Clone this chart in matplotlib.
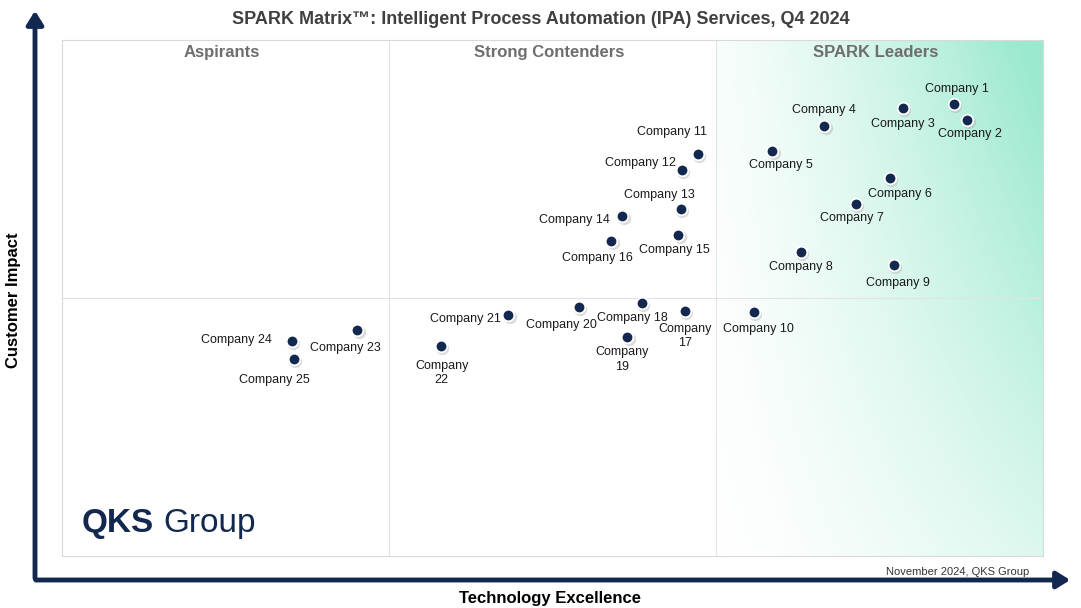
import numpy as np
import matplotlib
matplotlib.use("Agg")
import matplotlib.pyplot as plt
from matplotlib.patches import FancyArrowPatch

plt.rcParams['font.family'] = ['Liberation Sans', 'DejaVu Sans']

companies = [f"Company {i}" for i in range(1, 26)]
tech = [90.9, 92.3, 85.7, 77.7, 72.4, 84.4, 80.9, 75.3, 84.8, 70.5,
        64.8, 63.2, 63.1, 57.1, 62.8, 56.0, 63.5, 59.1, 57.6, 52.7,
        45.5, 38.6, 30.1, 23.4, 23.6]
impact = [87.6, 84.5, 86.8, 83.3, 78.5, 73.3, 68.2, 58.9, 56.4, 47.3,
          77.9, 74.8, 67.2, 65.9, 62.2, 61.0, 47.5, 49.0, 42.4, 48.3,
          46.7, 40.7, 43.8, 41.7, 38.2]
label_text = {17: "Company\n17", 19: "Company\n19", 22: "Company\n22"}
# label offsets in pixels (dx, dy; dy positive = up)
offsets = {1: (3, 15), 2: (2, -14), 3: (0, -16), 4: (0, 16), 5: (9, -14), 6: (10, -16),
           7: (-4, -14), 8: (0, -15), 9: (4, -18), 10: (5, -17), 11: (-26, 22),
           12: (-42, 7), 13: (-22, 14), 14: (-48, -4), 15: (-4, -15), 16: (-14, -17),
           17: (0, -25), 18: (-9, -15), 19: (-5, -22), 20: (-18, -18), 21: (-43, -4),
           22: (1, -27), 23: (-12, -18), 24: (-55, 1), 25: (-19, -21)}
quadrants = ["Aspirants", "Strong Contenders", "SPARK Leaders"]

W, H = 1081, 608
fig = plt.figure(figsize=(W/100, H/100), dpi=100)
x0, x1, y0, y1 = 62, 1043, 40, 556
ax = fig.add_axes([x0/W, 1-y1/H, (x1-x0)/W, (y1-y0)/H])
ax.set_xlim(0, 100); ax.set_ylim(0, 100)
ax.set_xticks([]); ax.set_yticks([])
for s in ax.spines.values():
    s.set_color('#d9d9d9'); s.set_linewidth(0.8)

# gradient in leaders region
nx, ny = 200, 200
gx = np.linspace(0, 1, nx)[None, :]
gy = np.linspace(1, 0, ny)[:, None]
a = np.clip(gx**1.3 * (0.35 + 0.65*gy) + 0.08*gy, 0, 1)
img = np.zeros((ny, nx, 4))
img[..., 0] = 150/255; img[..., 1] = 232/255; img[..., 2] = 205/255
img[..., 3] = a * 0.95
ax.imshow(img, extent=[66.67, 100, 0, 100], aspect='auto', zorder=0, interpolation='bilinear')

ax.axvline(33.33, color='#e3e3e3', lw=0.8)
ax.axvline(66.67, color='#e3e3e3', lw=0.8)
ax.axhline(50, color='#e3e3e3', lw=0.8)
for i, q in enumerate(quadrants):
    ax.text(16.3 + 33.33*i, 97.6, q, ha='center', va='center', fontsize=12,
            fontweight='bold', color='#6e6e6e')

# shadow + markers
ax.scatter(np.array(tech)+0.15, np.array(impact)-0.35, s=90, color='#b0b0b0', alpha=0.45, zorder=3, lw=0)
ax.scatter(tech, impact, s=70, color='#13284f', edgecolors='white', linewidths=1.3, zorder=4)
for i, (x, y) in enumerate(zip(tech, impact), start=1):
    dx, dy = offsets[i]
    ax.annotate(label_text.get(i, companies[i-1]), (x, y), xytext=(dx*0.72, dy*0.72),
                textcoords='offset points', ha='center', va='center', fontsize=9,
                color='#1a1a1a', linespacing=1.3, zorder=5)

# logo
ax.text(2.0, 6.3, "QKS", fontsize=24, fontweight='bold', color='#13284f', ha='left', va='center')
ax.text(10.3, 6.3, "Group", fontsize=24, color='#13284f', ha='left', va='center')

fig.text(0.5, 1-19/H, "SPARK Matrix™: Intelligent Process Automation (IPA) Services, Q4 2024",
         ha='center', va='center', fontsize=13, fontweight='bold', color='#404040')
fig.text(958/W, 1-572/H, "November 2024, QKS Group", ha='center', va='center', fontsize=8, color='#333333')
fig.text(550/W, 1-598/H, "Technology Excellence", ha='center', va='center', fontsize=12, fontweight='bold')
fig.text(14/W, 1-300/H, "Customer Impact", ha='center', va='center', fontsize=12, fontweight='bold', rotation=90)

navy = '#13284f'
fig.add_artist(FancyArrowPatch((35/W, 1-581/H), (35/W, 1-8/H), transform=fig.transFigure,
                               arrowstyle='-|>,head_length=8,head_width=5', color=navy, lw=3.5))
fig.add_artist(FancyArrowPatch((33/W, 1-580/H), (1073/W, 1-580/H), transform=fig.transFigure,
                               arrowstyle='-|>,head_length=8,head_width=5', color=navy, lw=3.5))

fig.savefig("out.png", dpi=100)
